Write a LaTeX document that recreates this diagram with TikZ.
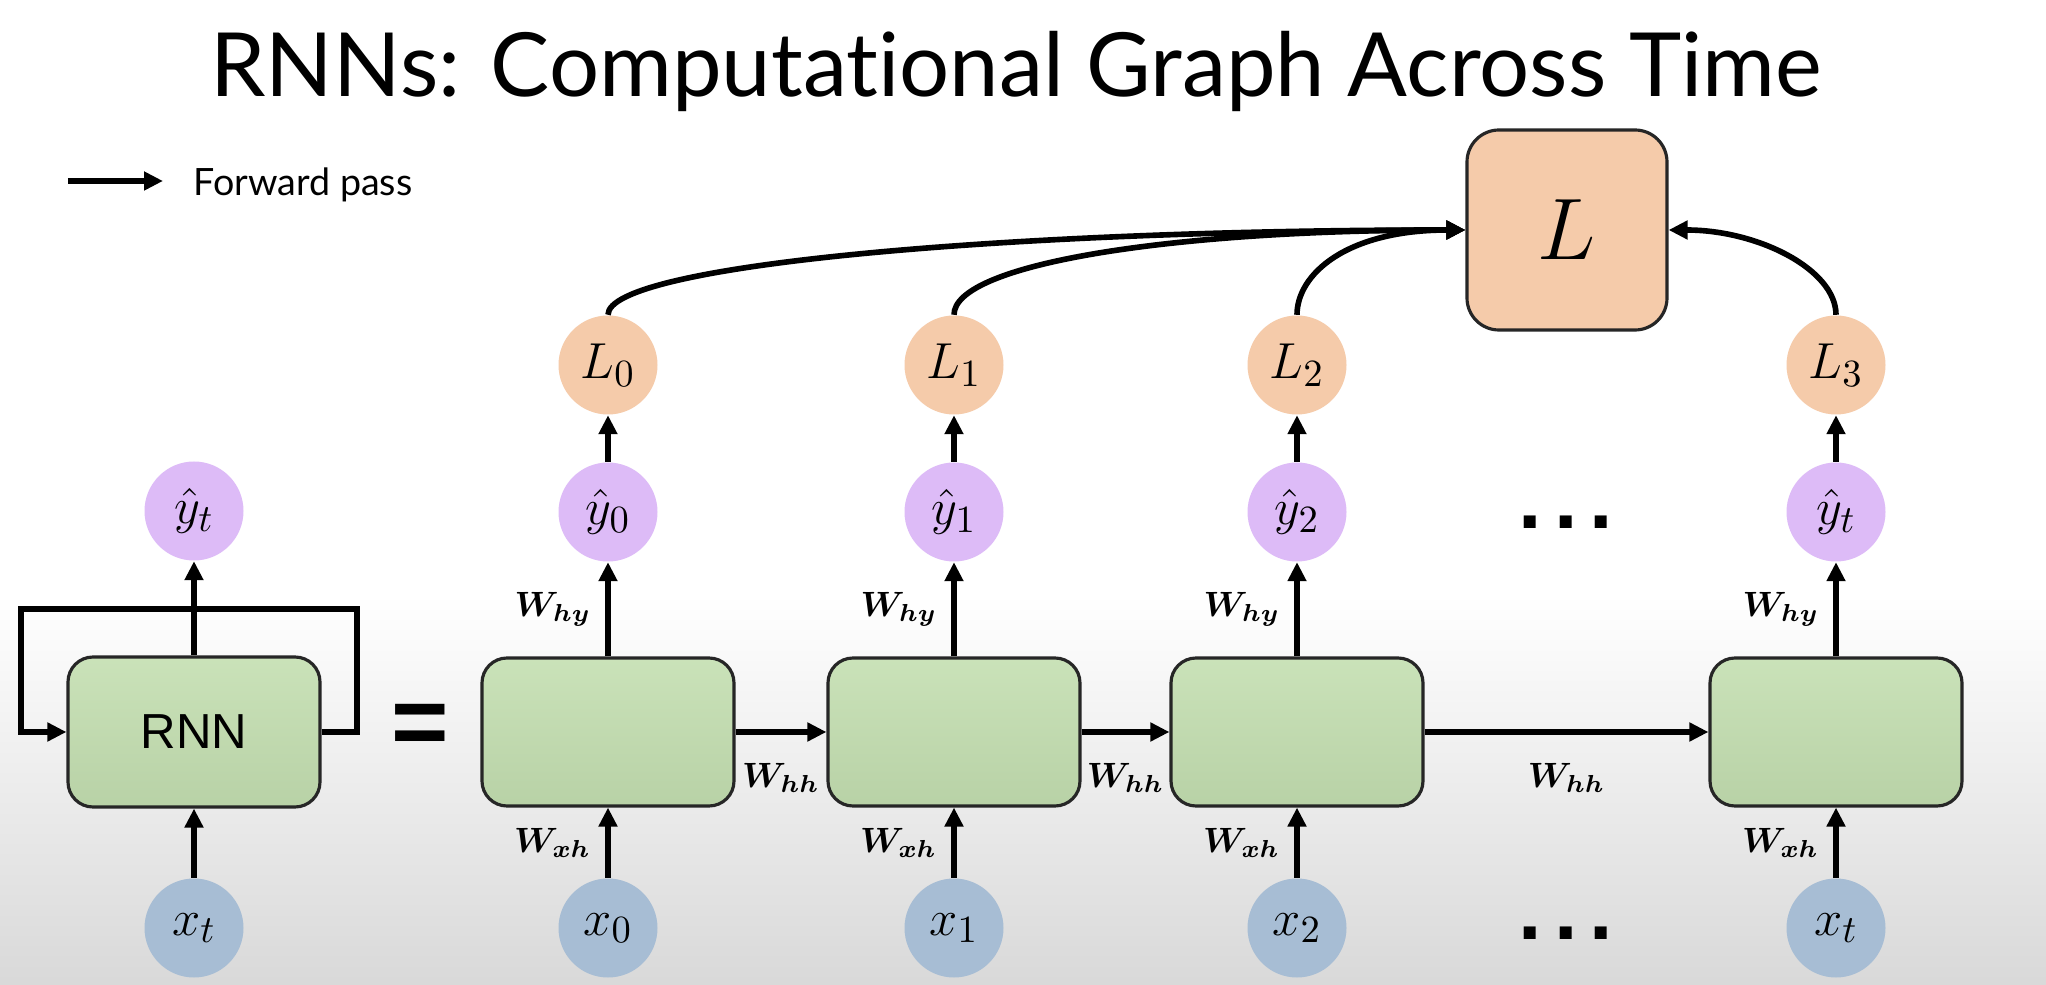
\documentclass[tikz,border=0pt]{standalone}
\usepackage{amsmath,bm}
\usepackage{fontspec}
\setmainfont{Lato}[Ligatures=CommonOff]
\newfontfamily\rnnfont{Liberation Sans}
\usetikzlibrary{positioning,arrows.meta,calc}

\definecolor{cellgreen}{HTML}{C4DFB1}
\definecolor{losspeach}{HTML}{F5CBAA}
\definecolor{outpurple}{HTML}{DDBBF7}
\definecolor{inblue}{HTML}{A7BDD4}

\begin{document}
\begin{tikzpicture}[
  cell/.style={rectangle, rounded corners=0.25cm, minimum width=2.52cm, minimum height=1.48cm, draw=black!85, line width=0.9pt, top color=cellgreen!90!white, bottom color=cellgreen!94!black},
  ball/.style={circle, minimum size=0.99cm, inner sep=0pt, font=\fontsize{15}{15}\selectfont},
  innode/.style={ball, fill=inblue},
  outnode/.style={ball, fill=outpurple},
  lossnode/.style={ball, fill=losspeach},
  wlab/.style={font=\fontsize{10}{10}\selectfont, inner sep=1pt},
  flow/.style={-{Triangle[length=0.19cm,width=0.18cm]}, line width=1.6pt},
  dotsnode/.style={font=\rnnfont\bfseries\fontsize{24}{24}\selectfont, inner sep=0pt},
]
% background: white top, grey fade at the bottom
\fill[white] (0,0) rectangle (20.46,9.84);
\shade[top color=white, bottom color=black!15] (0,0) rectangle (20.46,3.9);
\useasboundingbox (0,0) rectangle (20.46,9.84);

% title and legend
\node[font=\fontsize{25.2}{30}\selectfont, anchor=base] (title) at (10.16,8.87) {RNNs: Computational Graph Across Time};
\coordinate (fwdA) at (0.68,8.03);
\coordinate (fwdB) at (1.63,8.03);
\draw[flow] (fwdA) -- (fwdB);
\node[anchor=base west, font=\fontsize{10.7}{12}\selectfont, inner sep=0pt] (fwdtext) at (1.93,7.88) {Forward pass};

% folded RNN with its recurrence loop
\node[cell, minimum height=1.50cm, font=\rnnfont\fontsize{14}{14}\selectfont] (rnn) at (1.94,2.52) {RNN};
\node[outnode] (yhatF) at (1.94,4.73) {$\hat{y}_t$};
\node[innode] (xF) at (1.94,0.56) {$x_t$};
\draw[flow] (rnn.north) -- (yhatF.south);
\draw[flow] (xF.north) -- (rnn.south);
\coordinate (loopR) at (3.57,3.75);
\coordinate (loopL) at (0.21,3.75);
\draw[flow] (rnn.east) -| (loopR) -- (loopL) |- (rnn.west);

\node[font=\rnnfont\bfseries\fontsize{28}{28}\selectfont, anchor=base, inner sep=0pt] (eq) at (4.20,2.28) {=};

% unrolled cells, one column per time step
\foreach \px/\t/\k in {6.08/0/0, 9.54/1/1, 12.97/2/2, 18.36/t/3} {
  \node[cell] (cell\k) at (\px,2.52) {};
  \node[outnode] (yhat\k) at (\px,4.72) {$\hat{y}_\t$};
  \node[lossnode] (loss\k) at (\px,6.19) {$L_\k$};
  \node[innode] (xin\k) at (\px,0.56) {$x_\t$};
  \draw[flow] (xin\k) -- (cell\k) node[wlab, midway, left=3pt] {$\bm{W}_{\bm{xh}}$};
  \draw[flow] (cell\k) -- (yhat\k) node[wlab, midway, left=3pt] {$\bm{W}_{\bm{hy}}$};
  \draw[flow] (yhat\k) -- (loss\k);
}
\foreach \a/\b in {0/1,1/2,2/3} {
  \draw[flow] (cell\a) -- (cell\b) node[wlab, midway, below=7pt] {$\bm{W}_{\bm{hh}}$};
}
\node[dotsnode] (dotsY) at (15.66,4.62) {.\kern0.12cm.\kern0.12cm.};
\node[dotsnode] (dotsX) at (15.66,0.51) {.\kern0.12cm.\kern0.12cm.};

% total loss
\node[rectangle, rounded corners=0.32cm, minimum size=2.0cm, fill=losspeach, draw=black!85, line width=0.9pt, font=\fontsize{33}{33}\selectfont] (Ltotal) at (15.67,7.54) {$L$};
\draw[flow] (loss0.north) .. controls +(0,0.5) and +(-4.6,0) .. (Ltotal.west);
\draw[flow] (loss1.north) .. controls +(0,0.5) and +(-3,0) .. (Ltotal.west);
\draw[flow] (loss2.north) .. controls +(0,0.4) and +(-1.2,0) .. (Ltotal.west);
\draw[flow] (loss3.north) .. controls +(0,0.45) and +(0.9,0) .. (Ltotal.east);
\end{tikzpicture}
\end{document}
